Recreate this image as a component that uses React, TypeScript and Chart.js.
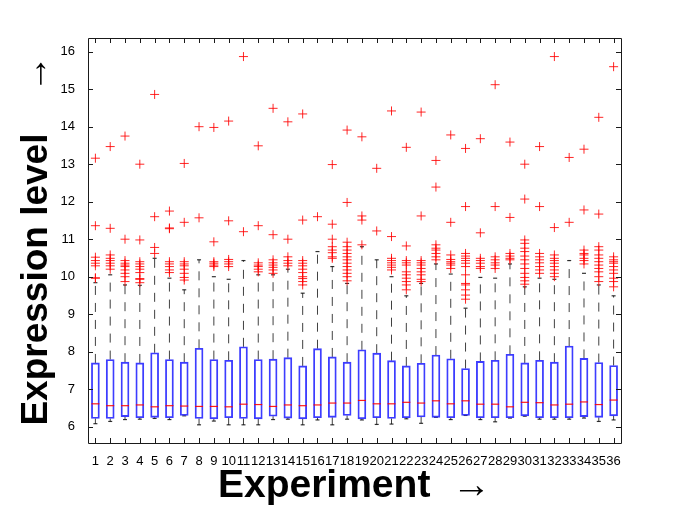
import React, { useEffect, useRef } from "react";
import { Chart, registerables } from "chart.js";

Chart.register(...registerables);

const experiments = Array.from({ length: 36 }, (_, i) => i + 1);
const yTickValues = [6, 7, 8, 9, 10, 11, 12, 13, 14, 15, 16];

const q3s = [7.70, 7.79, 7.72, 7.70, 7.97, 7.79, 7.72, 8.09, 7.79, 7.77, 8.13, 7.79, 7.80, 7.84, 7.62, 8.08, 7.86, 7.72,
  8.05, 7.96, 7.76, 7.62, 7.69, 7.91, 7.81, 7.55, 7.74, 7.77, 7.93, 7.70, 7.77, 7.72, 8.15, 7.82, 7.71, 7.63];
const medians = [6.61, 6.56, 6.56, 6.58, 6.53, 6.56, 6.55, 6.54, 6.54, 6.53, 6.60, 6.59, 6.54, 6.58, 6.56, 6.58, 6.63, 6.63,
  6.70, 6.61, 6.61, 6.65, 6.63, 6.69, 6.61, 6.69, 6.60, 6.60, 6.53, 6.65, 6.64, 6.58, 6.60, 6.66, 6.59, 6.71];
const q1s = [6.22, 6.22, 6.27, 6.24, 6.25, 6.24, 6.30, 6.22, 6.21, 6.24, 6.22, 6.21, 6.28, 6.23, 6.21, 6.24, 6.25, 6.30,
  6.21, 6.24, 6.22, 6.24, 6.26, 6.25, 6.24, 6.30, 6.24, 6.24, 6.24, 6.29, 6.24, 6.24, 6.24, 6.27, 6.25, 6.29];
const lowWhiskers = [6.08, 6.14, 6.19, 6.20, 6.22, 6.19, 6.29, 6.05, 6.15, 6.05, 6.05, 6.05, 6.19, 6.20, 6.05, 6.18, 6.05, 6.20,
  6.18, 6.06, 6.07, 6.21, 6.09, 6.25, 6.19, 6.30, 6.19, 6.13, 6.23, 6.28, 6.20, 6.20, 6.20, 6.23, 6.14, 6.18];
const highWhiskers = [9.84, 10.05, 9.78, 9.77, 10.49, 9.96, 9.65, 10.45, 10.0, 9.93, 10.43, 10.05, 10.05, 10.2, 9.56, 10.67, 10.27, 9.82,
  10.8, 10.45, 10.0, 9.49, 9.82, 10.34, 10.07, 9.16, 9.98, 9.96, 10.34, 9.73, 9.96, 9.93, 10.43, 10.09, 9.78, 9.49];
const outliers = [
  [13.16, 11.36, 10.52, 10.43, 10.36, 10.29, 9.97, 9.96],
  [13.47, 11.29, 10.58, 10.49, 10.43, 10.36, 10.29, 10.2],
  [13.75, 11.0, 10.43, 10.36, 10.31, 10.27, 10.18, 10.09, 10.0, 9.87],
  [13.0, 10.98, 10.40, 10.34, 10.27, 10.2, 10.11, 9.95, 9.93, 9.84],
  [14.86, 11.6, 10.78, 10.62],
  [11.75, 11.3, 11.28, 10.4, 10.34, 10.27, 10.18, 10.11],
  [13.02, 11.45, 10.40, 10.34, 10.29, 10.2, 10.09, 9.98, 9.91],
  [14.0, 11.57],
  [13.98, 10.93, 10.40, 10.36, 10.31, 10.27],
  [14.15, 11.49, 10.46, 10.4, 10.34, 10.27],
  [15.87, 11.2],
  [13.49, 11.36, 10.37, 10.31, 10.27, 10.2, 10.13],
  [14.49, 11.12, 10.45, 10.37, 10.31, 10.25, 10.18, 10.09],
  [14.13, 11.0, 10.53, 10.43, 10.36, 10.29],
  [14.34, 11.51, 10.43, 10.36, 10.29, 10.2, 10.11, 10.0, 9.95, 9.87, 9.78],
  [11.6],
  [12.99, 11.4, 11.0, 10.80, 10.71, 10.64, 10.53, 10.49],
  [13.91, 11.98, 10.92, 10.8, 10.71, 10.62, 10.53, 10.45, 10.36, 10.27, 10.18, 10.09, 10.0, 9.89],
  [13.73, 11.62, 11.51, 10.85],
  [12.89, 11.22],
  [14.42, 11.07, 10.49, 10.43, 10.37, 10.31, 10.25, 10.18],
  [13.45, 10.82, 10.43, 10.37, 10.31, 10.13, 10.05, 9.96, 9.87, 9.78, 9.65],
  [14.39, 11.62, 10.43, 10.37, 10.31, 10.22, 10.13, 10.05, 9.93, 9.87],
  [13.1, 12.39, 10.85, 10.76, 10.71, 10.62, 10.53, 10.45],
  [13.78, 11.45, 10.58, 10.46, 10.4, 10.36, 10.31, 10.22],
  [13.42, 11.87, 10.62, 10.55, 10.49, 10.43, 10.36, 10.27, 10.05, 9.82, 9.78, 9.65, 9.51, 9.4],
  [13.68, 11.17, 10.49, 10.43, 10.36, 10.27, 10.22],
  [15.12, 11.87, 10.53, 10.45, 10.37, 10.31, 10.22],
  [13.59, 11.58, 10.62, 10.55, 10.49, 10.45],
  [13.0, 12.07, 10.98, 10.89, 10.76, 10.67, 10.55, 10.45, 10.34, 10.22, 10.09, 9.98, 9.89, 9.8],
  [13.47, 11.87, 10.62, 10.53, 10.45, 10.37, 10.27, 10.18, 10.09],
  [15.87, 11.31, 10.58, 10.49, 10.43, 10.36, 10.27, 10.18, 10.09, 10.0],
  [13.18, 11.45],
  [13.4, 11.78, 10.71, 10.62, 10.58, 10.49, 10.43, 10.34],
  [14.25, 11.67, 10.8, 10.71, 10.58, 10.49, 10.4, 10.31, 10.22, 10.13, 10.0, 9.87],
  [15.6, 10.53, 10.45, 10.4, 10.36, 10.27, 10.18, 10.09, 9.96, 9.87, 9.73],
];

const xLabel = "Experiment  \u2192";
const yLabel = "Expression level    \u2192";

const FONT = "'Liberation Sans', Arial, Helvetica, sans-serif";

const framePlugin = {
  id: "matlabFrame",
  afterDraw(chart: any) {
    const { ctx, chartArea } = chart;
    const { left, right, top, bottom } = chartArea;
    const xs = chart.scales.x;
    const ys = chart.scales.y;
    const len = 5;
    ctx.save();
    ctx.strokeStyle = "#1a1a1a";
    ctx.lineWidth = 1;
    ctx.beginPath();
    ctx.rect(Math.round(left) + 0.5, Math.round(top) + 0.5, Math.round(right - left), Math.round(bottom - top));
    xs.ticks.forEach((t: any) => {
      const px = Math.round(xs.getPixelForValue(t.value)) + 0.5;
      ctx.moveTo(px, bottom);
      ctx.lineTo(px, bottom - len);
      ctx.moveTo(px, top);
      ctx.lineTo(px, top + len);
    });
    ys.ticks.forEach((t: any) => {
      const py = Math.round(ys.getPixelForValue(t.value)) + 0.5;
      ctx.moveTo(left, py);
      ctx.lineTo(left + len, py);
      ctx.moveTo(right, py);
      ctx.lineTo(right - len, py);
    });
    ctx.stroke();
    ctx.restore();
  },
};

export default function App() {
  const ref = useRef<HTMLCanvasElement | null>(null);

  useEffect(() => {
    if (!ref.current) return;

    const boxData = experiments.map((e, i) => ({ x: e, y: [q1s[i], q3s[i]] }));
    const medianData = experiments.map((e, i) => ({ x: e, y: medians[i] }));
    const whiskerData: any[] = [];
    experiments.forEach((e, i) => {
      whiskerData.push({ x: e, y: q3s[i] }, { x: e, y: highWhiskers[i] }, { x: e, y: null });
      whiskerData.push({ x: e, y: q1s[i] }, { x: e, y: lowWhiskers[i] }, { x: e, y: null });
    });
    const capData: any[] = [];
    experiments.forEach((e, i) => {
      capData.push({ x: e, y: highWhiskers[i] }, { x: e, y: lowWhiskers[i] });
    });
    const outlierData: any[] = [];
    experiments.forEach((e, i) => {
      outliers[i].forEach((v) => outlierData.push({ x: e, y: v }));
    });

    const chart = new Chart(ref.current, {
      type: "bar",
      data: {
        datasets: [
          {
            type: "scatter",
            label: "Medians",
            data: medianData,
            pointStyle: "line",
            radius: 4,
            borderColor: "rgba(255,0,0,0.9)",
            borderWidth: 1.2,
            showLine: false,
          } as any,
          {
            type: "scatter",
            label: "Outliers",
            data: outlierData,
            pointStyle: "cross",
            radius: 4.5,
            borderColor: "rgba(255,0,0,0.85)",
            borderWidth: 1,
            showLine: false,
          } as any,
          {
            type: "bar",
            label: "Boxes",
            data: boxData,
            barThickness: 8,
            backgroundColor: "rgba(0,0,0,0)",
            borderColor: "rgba(40,40,255,0.9)",
            borderWidth: 1.2,
            borderSkipped: false,
          } as any,
          {
            type: "scatter",
            label: "Caps",
            data: capData,
            pointStyle: "line",
            radius: 2,
            borderColor: "rgba(0,0,0,0.8)",
            borderWidth: 1.2,
            showLine: false,
          } as any,
          {
            type: "scatter",
            label: "Whiskers",
            data: whiskerData,
            showLine: true,
            spanGaps: false,
            borderColor: "rgba(0,0,0,0.75)",
            borderWidth: 1,
            borderDash: [9, 8],
            pointRadius: 0,
          } as any,
        ],
      },
      options: {
        animation: false,
        responsive: false,
        devicePixelRatio: 1,
        layout: { padding: { left: 0, top: 38, right: 64, bottom: 0 } },
        plugins: { legend: { display: false }, tooltip: { enabled: false } },
        scales: {
          x: {
            type: "linear",
            min: 0.5,
            max: 36.5,
            offset: false,
            grid: { display: false },
            border: { display: false },
            afterBuildTicks: (scale: any) => {
              scale.ticks = experiments.map((v) => ({ value: v }));
            },
            afterFit: (scale: any) => {
              scale.height = 70;
            },
            ticks: {
              autoSkip: false,
              maxRotation: 0,
              minRotation: 0,
              padding: 3,
              color: "#000",
              font: { family: FONT, size: 13 },
              callback: (v: any) => String(v),
            },
            title: {
              display: true,
              text: xLabel,
              color: "#000",
              font: { family: FONT, size: 39, weight: "bold" },
              padding: { top: 0, bottom: 3 },
            },
          },
          y: {
            type: "linear",
            min: 5.565,
            max: 16.365,
            beginAtZero: false,
            grid: { display: false },
            border: { display: false },
            afterBuildTicks: (scale: any) => {
              scale.ticks = yTickValues.map((v) => ({ value: v }));
            },
            afterFit: (scale: any) => {
              scale.width = 88;
            },
            ticks: {
              padding: 5,
              color: "#000",
              font: { family: FONT, size: 13 },
              callback: (v: any) => String(v),
            },
            title: {
              display: true,
              text: yLabel,
              color: "#000",
              font: { family: FONT, size: 37, weight: "bold" },
              padding: { top: 15, bottom: 0 },
            },
          },
        },
      },
      plugins: [framePlugin],
    } as any);

    return () => chart.destroy();
  }, []);

  return (
    <div style={{ position: "fixed", left: 0, top: 0, width: 685, height: 513, background: "#fff" }}>
      <canvas ref={ref} width={685} height={513} style={{ display: "block" }} />
    </div>
  );
}
